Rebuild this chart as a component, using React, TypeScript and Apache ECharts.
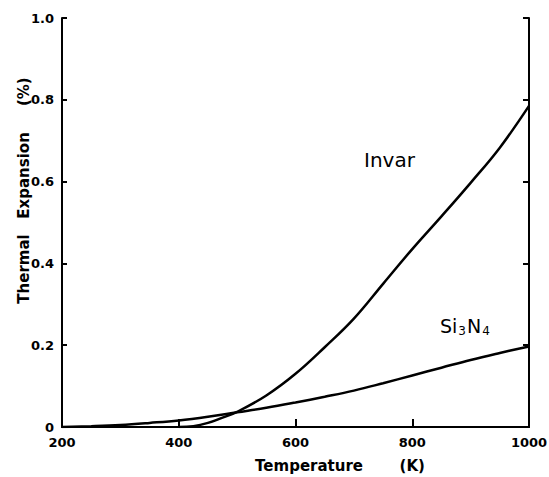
import React, { useEffect, useRef } from "react";
import * as echarts from "echarts";

const xTicks = [200, 400, 600, 800, 1000];
const yTicks = [0, 0.2, 0.4, 0.6, 0.8, 1.0];
const yTickLabels = ["0", "0.2", "0.4", "0.6", "0.8", "1.0"];

const invarT = [400, 425, 450, 475, 500, 550, 600, 650, 700, 750, 800, 850, 900, 950, 1000];
const invarV = [0, 0.002, 0.01, 0.023, 0.037, 0.077, 0.13, 0.195, 0.265, 0.35, 0.435, 0.515, 0.597, 0.683, 0.785];

const si3n4T = [200, 250, 300, 350, 400, 450, 500, 550, 600, 650, 700, 750, 800, 850, 900, 950, 1000];
const si3n4V = [0, 0.002, 0.005, 0.01, 0.016, 0.025, 0.036, 0.047, 0.06, 0.074, 0.089, 0.107, 0.126, 0.145, 0.164, 0.181, 0.197];

const FONT = "DejaVu Sans";

export default function App() {
  const ref = useRef<HTMLDivElement>(null);
  useEffect(() => {
    if (!ref.current) return;
    const chart = echarts.init(ref.current, null, { renderer: "svg" });
    const axisLine = { show: true, lineStyle: { color: "#000", width: 2 } };
    chart.setOption({
      animation: false,
      backgroundColor: "#fff",
      grid: { left: 62, right: 20, top: 18, bottom: 50, containLabel: false, outerBoundsMode: "none" },
      xAxis: [
        {
          type: "value",
          min: 200,
          max: 1000,
          interval: 200,
          position: "bottom",
          axisLine,
          axisTick: { show: true, inside: true, length: 8, lineStyle: { color: "#000", width: 2 } },
          splitLine: { show: false },
          axisLabel: {
            color: "#000",
            fontFamily: FONT,
            fontSize: 13,
            fontWeight: "bold",
            margin: 9,
            formatter: (v: number) => (xTicks.includes(v) ? String(v) : ""),
          },
          name: "Temperature       (K)",
          nameLocation: "middle",
          nameGap: 31,
          nameMoveOverlap: false,
          nameTextStyle: { color: "#000", fontFamily: FONT, fontSize: 15, fontWeight: "bold", padding: [0, 0, 0, 89] },
        },
        {
          type: "value",
          min: 200,
          max: 1000,
          interval: 200,
          position: "top",
          axisLine,
          axisTick: { show: false },
          axisLabel: { show: false },
          splitLine: { show: false },
        },
      ],
      yAxis: [
        {
          type: "value",
          min: 0,
          max: 1,
          interval: 0.2,
          position: "left",
          axisLine,
          axisTick: { show: true, inside: true, length: 5, lineStyle: { color: "#000", width: 2 } },
          splitLine: { show: false },
          axisLabel: {
            color: "#000",
            fontFamily: FONT,
            fontSize: 13,
            fontWeight: "bold",
            margin: 8,
            formatter: (v: number) => {
              const i = yTicks.findIndex((t) => Math.abs(t - v) < 1e-6);
              return i >= 0 ? yTickLabels[i] : "";
            },
          },
          name: "Thermal   Expansion     (%)",
          nameLocation: "middle",
          nameGap: 31,
          nameMoveOverlap: false,
          nameTextStyle: { color: "#000", fontFamily: FONT, fontSize: 15, fontWeight: "bold", padding: [0, 0, 0, 64] },
        },
        {
          type: "value",
          min: 0,
          max: 1,
          interval: 0.2,
          position: "right",
          axisLine,
          axisTick: { show: true, inside: true, length: 6, lineStyle: { color: "#000", width: 2 } },
          axisLabel: { show: false },
          splitLine: { show: false },
        },
      ],
      series: [
        {
          name: "Invar",
          type: "line",
          smooth: 0.4,
          showSymbol: false,
          lineStyle: { color: "#000", width: 2.5 },
          data: invarT.map((t, i) => [t, invarV[i]]),
        },
        {
          name: "Si3N4",
          type: "line",
          smooth: 0.4,
          showSymbol: false,
          lineStyle: { color: "#000", width: 2.5 },
          data: si3n4T.map((t, i) => [t, si3n4V[i]]),
        },
      ],
      graphic: [
        {
          type: "text",
          left: 364,
          top: 150,
          style: { text: "Invar", fill: "#000", font: `20px ${FONT}` },
        },
        {
          type: "text",
          left: 440,
          top: 316,
          style: {
            text: "{a|Si}{b|3}{a|N}{b|4}",
            rich: {
              a: { fill: "#000", fontFamily: FONT, fontSize: 19 },
              b: { fill: "#000", fontFamily: FONT, fontSize: 12, padding: [11, 1, 0, 1] },
            },
          },
        },
      ],
    });
    return () => chart.dispose();
  }, []);
  return (
    <div
      ref={ref}
      style={{ position: "absolute", left: 0, top: 0, width: 549, height: 477 }}
    />
  );
}
